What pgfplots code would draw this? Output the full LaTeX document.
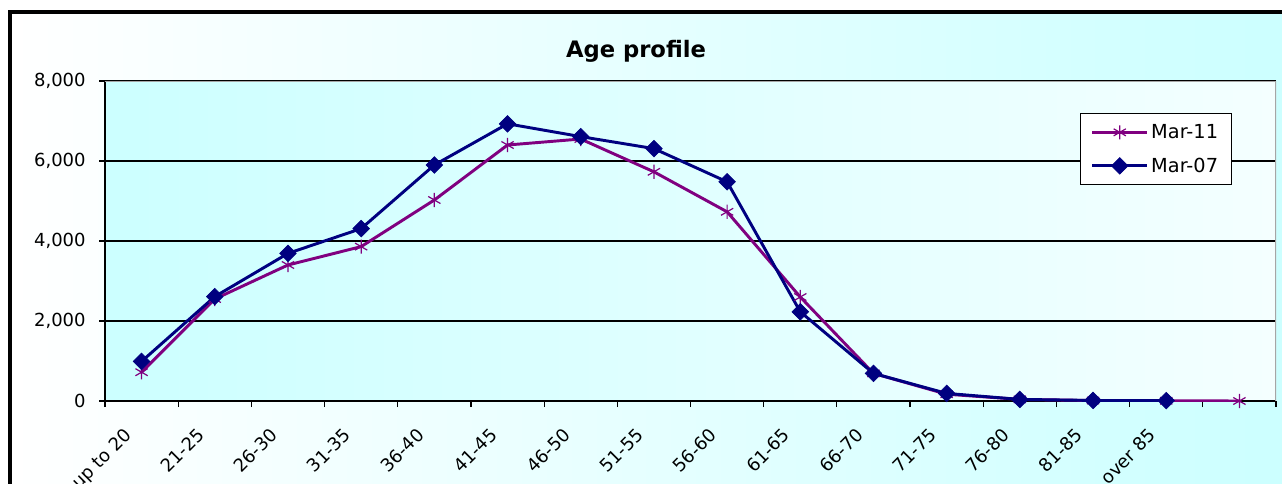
\documentclass[border=0pt]{standalone}
\usepackage{pgfplots}
\pgfplotsset{compat=1.18}
\usepackage{fontspec}
\setmainfont{DejaVu Sans}
\definecolor{m11}{HTML}{800080}
\definecolor{m07}{HTML}{000080}
\definecolor{bgcyan}{HTML}{CCFFFF}
\definecolor{paleend}{HTML}{F4FFFF}
\begin{document}
\begin{tikzpicture}[x=0.75pt,y=0.75pt]
\useasboundingbox (0,0) rectangle (1282,483);
\clip (0,0) rectangle (1282,483);
\fill[white] (0,0) rectangle (1282,483);
\fill[left color=white, right color=bgcyan] (10,0) rectangle (1282,471);
\draw[line width=2.4pt] (10,-10) -- (10,471) -- (1300,471);
\node[font=\fontsize{17}{20}\selectfont\bfseries] at (636,432) {Age profile};
\begin{axis}[
  at={(78.75pt,61.5pt)}, anchor=south west,
  width=878.25pt, height=240pt, scale only axis,
  axis lines=left, axis line style={-, black, line width=0.9pt},
  xmin=-0.5, xmax=15.5, ymin=0, ymax=8000,
  ytick={0,2000,4000,6000,8000},
  ymajorgrids, grid style={black, line width=0.9pt},
  xtick={0,...,14},
  xticklabels={up to 20,21-25,26-30,31-35,36-40,41-45,46-50,51-55,56-60,61-65,66-70,71-75,76-80,81-85,over 85},
  minor xtick={-0.5,0.5,...,15.5},
  major x tick style={draw=none},
  tick align=outside,
  major tick length=4.5pt, minor tick length=4.5pt,
  tick style={black, line width=0.9pt},
  /pgf/number format/assume math mode=true,
  /pgf/number format/1000 sep={,},
  yticklabel style={font=\fontsize{13.5}{16}\selectfont, xshift=-6.5pt},
  xticklabel style={xshift=-14pt, yshift=-13.5pt, font=\fontsize{13.5}{16}\selectfont, rotate=45, anchor=north east, inner sep=1pt},
  axis background/.style={left color=bgcyan, right color=paleend},
  legend style={at={(0.9624,0.9)}, anchor=north east, draw=black, line width=0.9pt, fill=white,
    font=\fontsize{14.5}{17}\selectfont, row sep=9pt, inner xsep=8pt, inner ysep=6pt},
  legend cell align=left,
  legend image code/.code={\draw[mark repeat=2,mark phase=2,#1] plot coordinates {(0pt,0pt) (20.5pt,0pt) (41pt,0pt)};},
]
\draw[gray!70, line width=0.9pt] (rel axis cs:0,1) -- (rel axis cs:1,1) -- (rel axis cs:1,0);
\addplot[m11, line width=2.2pt, mark=asterisk, mark size=5.3pt, mark options={line width=0.9pt}] coordinates {
(0,720) (1,2550) (2,3400) (3,3860) (4,5025) (5,6400) (6,6550) (7,5730) (8,4730) (9,2600) (10,690) (11,170) (12,40) (13,12) (14,6) (15,0)
};
\addlegendentry{Mar-11}
\addplot[m07, line width=2.2pt, mark=square*, mark size=4.4pt, mark options={rotate=45, fill=m07, line width=0.5pt}] coordinates {
(0,990) (1,2610) (2,3690) (3,4310) (4,5900) (5,6930) (6,6610) (7,6310) (8,5480) (9,2230) (10,690) (11,190) (12,40) (13,14) (14,8)
};
\addlegendentry{Mar-07}
\end{axis}
\end{tikzpicture}
\end{document}
